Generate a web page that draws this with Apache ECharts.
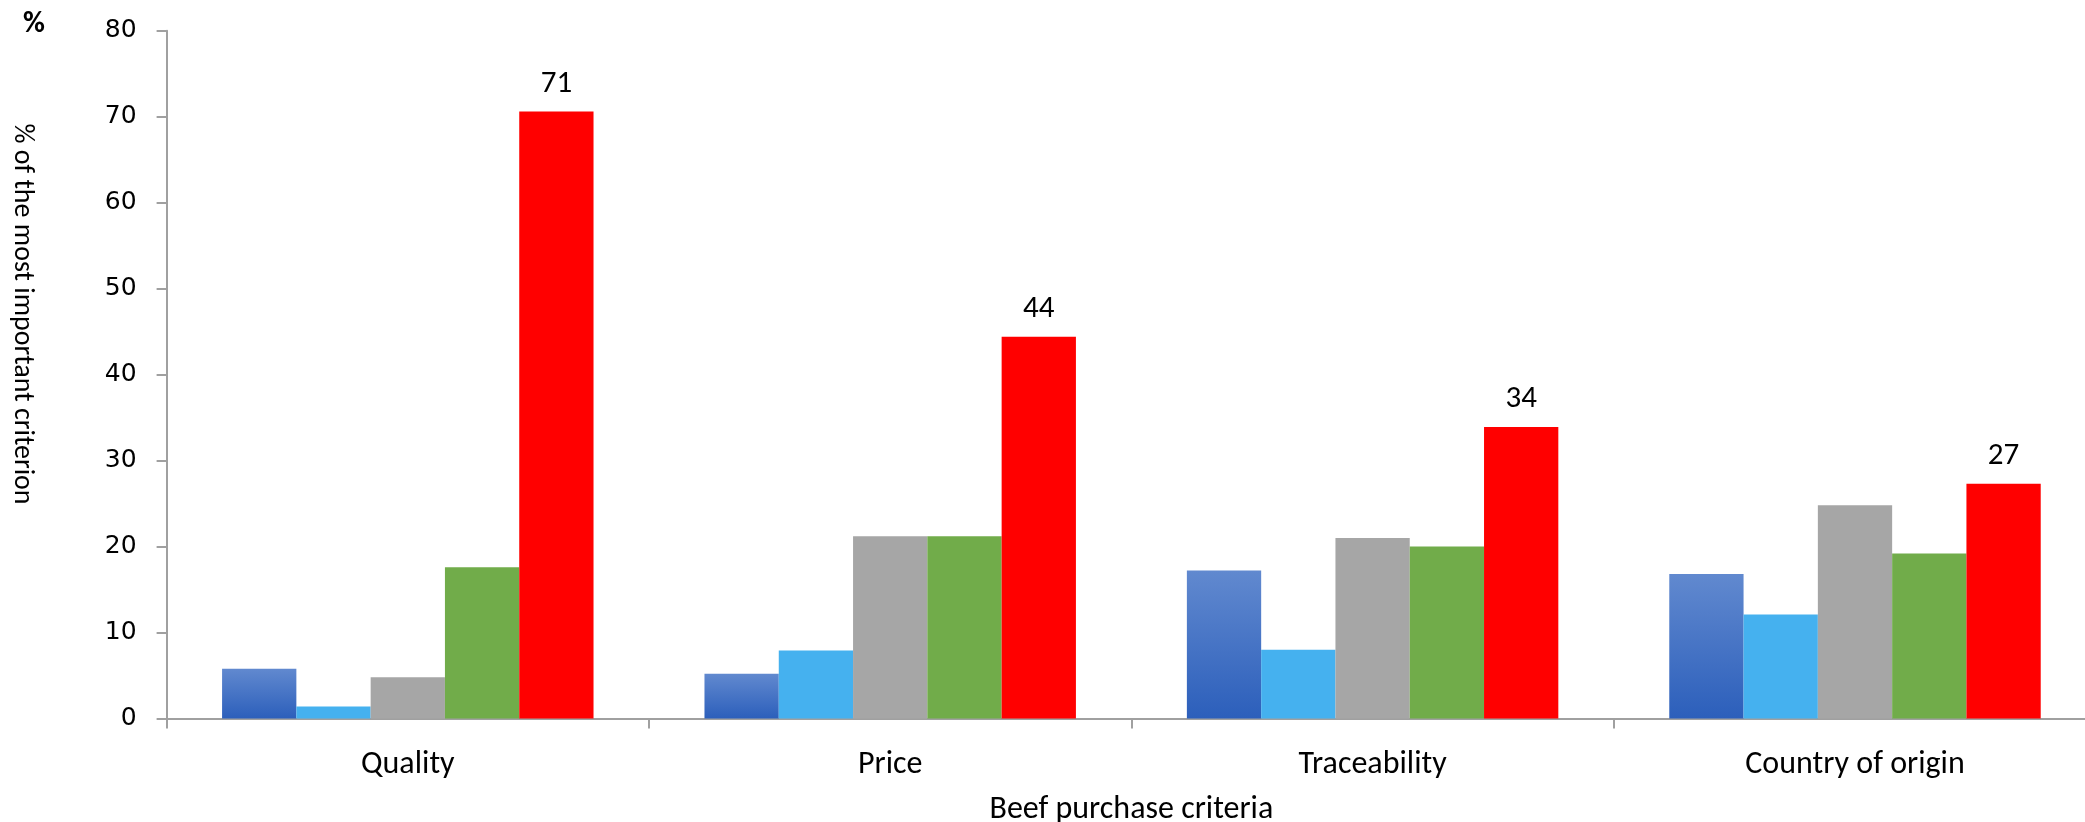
<!DOCTYPE html>
<html>
<head>
<meta charset="utf-8">
<script src="https://cdn.jsdelivr.net/npm/echarts@6/dist/echarts.min.js"></script>
<style>
html,body{margin:0;padding:0;background:#fff;overflow:hidden;width:100%;height:100%;}
#chart{position:absolute;left:0;top:0;width:2085px;height:822px;}
</style>
</head>
<body>
<div id="chart"></div>
<script>
const categories = ['Quality', 'Price', 'Traceability', 'Country of origin'];
const series1 = [5.8, 5.2, 17.2, 16.8];
const series2 = [1.4, 7.9, 8.0, 12.1];
const series3 = [4.8, 21.2, 21.0, 24.8];
const series4 = [17.6, 21.2, 20.0, 19.2];
const series5 = [70.6, 44.4, 33.9, 27.3];
const yTicks = [0, 10, 20, 30, 40, 50, 60, 70, 80];

const calibri = 'Carlito, Lato, "Open Sans", sans-serif';
const chart = echarts.init(document.getElementById('chart'));

const blueGrad = new echarts.graphic.LinearGradient(0, 0, 0, 1, [
  {offset: 0, color: '#6189cf'},
  {offset: 1, color: '#2c5fbb'}
]);

function bar(data, color, label) {
  return {
    type: 'bar',
    data: data,
    barGap: '0%',
    barCategoryGap: '23%',
    itemStyle: {color: color},
    label: label ? {
      show: true, position: 'top', distance: 12,
      color: '#000', fontFamily: calibri, fontSize: 31,
      formatter: p => Math.round(p.value)
    } : {show: false},
    emphasis: {disabled: true},
    animation: false
  };
}

chart.setOption({
  animation: false,
  grid: {left: 166.6, width: 1929.6, top: 30.7, height: 687.8, containLabel: false, outerBoundsMode: 'none'},
  xAxis: {
    type: 'category',
    data: categories,
    name: 'Beef purchase criteria',
    nameLocation: 'middle',
    nameGap: 75,
    nameTextStyle: {color: '#000', fontFamily: calibri, fontSize: 32},
    axisLine: {lineStyle: {color: '#a0a0a0', width: 2}},
    axisTick: {show: true, length: 10, lineStyle: {color: '#a0a0a0', width: 2}},
    axisLabel: {color: '#000', fontFamily: calibri, fontSize: 32, margin: 30}
  },
  yAxis: {
    type: 'value',
    min: yTicks[0], max: yTicks[yTicks.length - 1], interval: 10,
    axisLine: {show: true, lineStyle: {color: '#a0a0a0', width: 2}},
    axisTick: {show: true, length: 10, lineStyle: {color: '#a0a0a0', width: 2}},
    splitLine: {show: false},
    axisLabel: {color: '#000', fontFamily: '"DejaVu Sans", Verdana, sans-serif', fontSize: 25, margin: 30}
  },
  graphic: [
    {type: 'text', left: 23, top: 9, style: {text: '%', font: 'bold 30px ' + calibri, fill: '#000'}},
    {type: 'text', x: 22, y: 314, rotation: -Math.PI / 2,
     style: {text: '% of the most important criterion', font: '28px ' + calibri, fill: '#000', align: 'center', verticalAlign: 'middle'}}
  ],
  series: [
    bar(series1, blueGrad, false),
    bar(series2, '#45b1ef', false),
    bar(series3, '#a6a6a6', false),
    bar(series4, '#71ac4a', false),
    bar(series5, '#ff0000', true)
  ]
});
</script>
</body>
</html>
